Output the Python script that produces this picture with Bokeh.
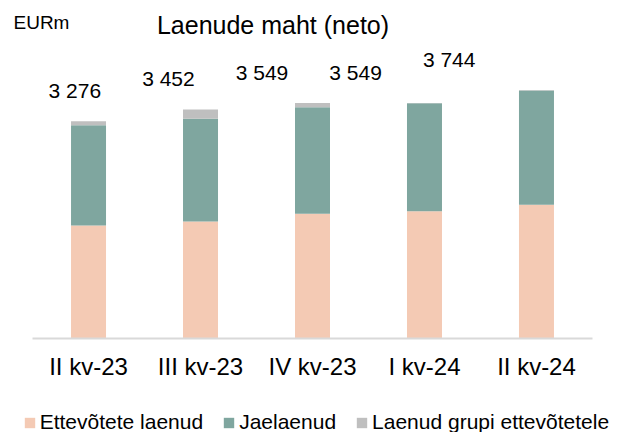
from bokeh.plotting import figure
from bokeh.models import (ColumnDataSource, Range1d, FactorRange, Legend, LegendItem,
                          LabelSet, Label)
from bokeh.core.properties import value
from bokeh.embed import file_html
from bokeh.resources import INLINE

# ---- data ----
quarters = ["II kv-23", "III kv-23", "IV kv-23", "I kv-24", "II kv-24"]
ettevotete_laenud = [1707, 1767, 1883, 1922, 2018]
jaelaenud = [1508, 1544, 1603, 1622, 1719]
grupi_laenud = [61, 141, 63, 5, 7]
totals = [3276, 3452, 3549, 3549, 3744]
total_labels = ["3 276", "3 452", "3 549", "3 549", "3 744"]
series_names = ["Ettevõtete laenud", "Jaelaenud", "Laenud grupi ettevõtetele"]
series_keys = ["ettevotete", "jae", "grupi"]
colors = ["#F4CAB4", "#7FA69F", "#BFBFBF"]

FONT = "Liberation Sans"
W, H = 624, 432

# value labels in the original sit on a slightly tighter spacing than the bars
label_dx = [-13.7 - 18.4 * i for i in range(len(quarters))]

src = ColumnDataSource(dict(
    q=quarters,
    ettevotete=ettevotete_laenud,
    jae=jaelaenud,
    grupi=grupi_laenud,
    total=totals,
    label=total_labels,
    dx=label_dx,
))

p = figure(
    x_range=FactorRange(*quarters, range_padding=0.286, range_padding_units="absolute"),
    y_range=Range1d(-1406, 5090),
    width=W, height=H,
    min_border_left=0, min_border_right=0, min_border_top=0, min_border_bottom=0,
    output_backend="svg", toolbar_location=None,
)

renderers = p.vbar_stack(series_keys, x="q", width=0.3125, source=src,
                         color=colors, line_color=None)

p.yaxis.visible = False
p.grid.visible = False
p.outline_line_color = None

ax = p.xaxis[0]
ax.fixed_location = 0
ax.bounds = (0, 5)
ax.major_tick_line_color = None
ax.minor_tick_line_color = None
ax.axis_line_color = "#D9D9D9"
ax.axis_line_width = 2
ax.major_label_text_font = FONT
ax.major_label_text_font_size = "24px"
ax.major_label_text_color = "#000000"
ax.major_label_standoff = 8

labels = LabelSet(x="q", y="total", text="label", source=src,
                  x_offset="dx", y_offset=23, text_align="center",
                  text_baseline="alphabetic",
                  text_font=value(FONT), text_font_size=value("21px"),
                  text_color="#000000")
p.add_layout(labels)

p.add_layout(Label(x=272.5, y=H - 24.5, x_units="screen", y_units="screen",
                   text="Laenude maht (neto)", text_align="center",
                   text_baseline="middle", text_font=FONT,
                   text_font_size="25px", text_color="#000000"))
p.add_layout(Label(x=13, y=H - 21.5, x_units="screen", y_units="screen",
                   text="EURm", text_align="left", text_baseline="middle",
                   text_font=FONT, text_font_size="19px", text_color="#000000"))

legend = Legend(
    items=[LegendItem(label=n, renderers=[r]) for n, r in zip(series_names, renderers)],
    orientation="horizontal", location=(22.7, -2),
    glyph_width=13, glyph_height=13, label_standoff=4, spacing=19,
    padding=0, margin=0, border_line_color=None, background_fill_alpha=0,
    label_text_font=FONT, label_text_font_size="21px", label_text_color="#000000",
)
p.add_layout(legend)

open("out.html", "w").write(file_html(p, INLINE))
